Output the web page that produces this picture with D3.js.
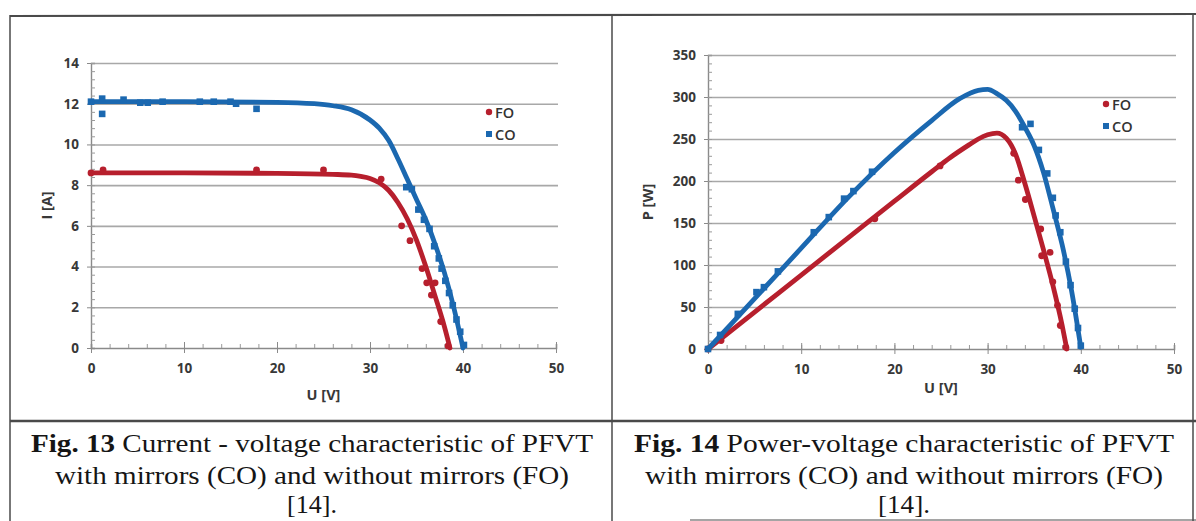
<!DOCTYPE html>
<html>
<head>
<meta charset="utf-8">
<script src="https://cdn.jsdelivr.net/npm/d3@7"></script>
<style>
  html, body { margin: 0; padding: 0; background: #fff; }
  svg { display: block; }
  .cap { font-family: "Liberation Serif", serif; font-size: 26px; fill: #151515; }
</style>
</head>
<body>
<svg id="chart" width="1196" height="521"></svg>
<script>
// ---- data ----
// current-voltage, fitted curves
const ivFoCurveU = [0, 10, 20, 26, 28, 29, 30, 31, 32, 33, 34, 35, 36, 37, 38, 38.6]
const ivFoCurveI = [8.6, 8.6, 8.58, 8.53, 8.49, 8.43, 8.33, 8.12, 7.75, 7.15, 6.35, 5.3, 4.0, 2.55, 1.05, 0]
const ivCoCurveU = [0, 10, 20, 24, 26, 28, 30, 31, 32, 33, 34, 35, 36, 37, 38, 39, 40]
const ivCoCurveI = [12.1, 12.1, 12.07, 12.0, 11.9, 11.7, 11.2, 10.8, 10.2, 9.3, 8.3, 7.3, 6.3, 5.1, 3.7, 2.0, 0]
// current-voltage, measured points
const ivFoU = [0, 1.3, 17.8, 25, 31.2, 33.4, 34.3, 35.6, 36.1, 37.0, 36.6, 37.6, 38.4]
const ivFoI = [8.6, 8.75, 8.75, 8.75, 8.3, 6.0, 5.27, 3.9, 3.2, 3.2, 2.6, 1.3, 0.1]
const ivCoU = [0, 1.2, 1.2, 3.5, 5.3, 6.1, 7.7, 11.7, 13.2, 15.0, 15.6, 17.8, 33.9, 34.5, 35.2, 35.8, 36.4, 36.9, 37.4, 37.7, 38.1, 38.5, 38.9, 39.3, 39.7, 40.1]
const ivCoI = [12.1, 12.25, 11.5, 12.2, 12.05, 12.05, 12.1, 12.1, 12.1, 12.1, 12.0, 11.75, 7.9, 7.8, 6.8, 6.3, 5.85, 5.0, 4.4, 3.9, 3.3, 2.7, 2.1, 1.4, 0.8, 0.15]

// power-voltage, fitted curves
const pvFoCurveU = [0, 5, 10, 15, 20, 24, 26, 28, 29, 30, 31, 32, 33, 34, 35, 36, 37, 38, 38.5]
const pvFoCurveP = [0, 44, 88, 132, 176, 211, 228, 243, 250, 255, 257, 251, 232, 197, 158, 118, 76, 28, 0]
const pvCoCurveU = [0, 5, 10, 15, 20, 24, 27, 29, 30, 31, 32, 33, 34, 35, 36, 37, 38, 39, 40]
const pvCoCurveP = [0, 60, 120, 180, 234, 272, 298, 308, 309, 304, 296, 283, 264, 242, 210, 168, 124, 70, 2]
// power-voltage, measured points
const pvFoU = [0, 1.4, 17.9, 24.9, 32.8, 33.3, 34.05, 35.7, 35.8, 36.7, 37.0, 37.5, 37.8, 38.4]
const pvFoP = [0, 10, 155, 218, 233, 201, 178, 143, 111, 115, 80, 52, 28, 2]
const pvCoU = [0, 1.3, 3.2, 5.2, 6.0, 7.5, 11.35, 12.96, 14.6, 15.6, 17.6, 33.7, 34.6, 35.5, 36.4, 37.0, 37.3, 37.8, 38.4, 38.9, 39.35, 39.7, 40.0]
const pvCoP = [0, 16.7, 41.8, 67.7, 73.6, 92.4, 139, 157, 179, 188, 211, 264, 268, 237, 209, 180, 159, 139, 104, 76, 48, 25, 4]

const seriesNames = ["FO", "CO"]
const xTicks = [0, 10, 20, 30, 40, 50]
const ivTicks = [0, 2, 4, 6, 8, 10, 12, 14]
const pvTicks = [0, 50, 100, 150, 200, 250, 300, 350]

const captions = [
    {bold: "Fig. 13", rest: " Current - voltage characteristic of PFVT", line2: "with mirrors (CO) and without mirrors (FO)", line3: "[14]."},
    {bold: "Fig. 14", rest: " Power-voltage characteristic of PFVT", line2: "with mirrors (CO) and without mirrors (FO)", line3: "[14]."}
]

const RED = "#b71f2d"
const BLUE = "#1b68b0"
const GRID = "#a8a8a8"
const LABEL_FONT = "'Open Sans', sans-serif"

const zip = (a, b) => a.map((v, i) => [v, b[i]])

const svg = d3.select("#chart")
svg.append("rect").attr("width", 1196).attr("height", 521).attr("fill", "#fff")

const styleLabels = s => s.selectAll("text")
    .attr("font-family", LABEL_FONT).attr("font-weight", 700).attr("font-size", 13.5).attr("fill", "#383838")

function panel(cfg) {
    const x = d3.scaleLinear().domain([0, 50]).range([cfg.x0, cfg.x1])
    const y = d3.scaleLinear().domain([0, cfg.yMax]).range([cfg.y0, cfg.y1])
    const g = svg.append("g")

    // gridlines
    g.append("g")
        .attr("transform", `translate(${cfg.x0},0)`)
        .call(d3.axisLeft(y).tickValues(cfg.yTicks.slice(1)).tickSize(-(cfg.x1 - cfg.x0 + 2)).tickFormat(""))
        .call(s => s.select(".domain").remove())
        .selectAll("line").attr("stroke", GRID).attr("stroke-width", 1.6)

    // y minor ticks (inside)
    const yStep = cfg.yTicks[1] / 5
    g.append("g")
        .attr("transform", `translate(${cfg.x0},0)`)
        .call(d3.axisLeft(y).tickValues(d3.range(0, cfg.yMax + 1e-9, yStep)).tickSize(-4).tickFormat(""))
        .call(s => s.select(".domain").attr("stroke", "#8a8a8a").attr("stroke-width", 1.4))
        .selectAll("line").attr("stroke", "#9a9a9a")

    // y major ticks + labels
    g.append("g")
        .attr("transform", `translate(${cfg.x0},0)`)
        .call(d3.axisLeft(y).tickValues(cfg.yTicks).tickSize(4).tickPadding(8))
        .call(s => s.select(".domain").remove())
        .call(s => s.selectAll("line").attr("stroke", "#8a8a8a"))
        .call(styleLabels)

    // x minor ticks (pointing up)
    g.append("g")
        .attr("transform", `translate(0,${cfg.y0})`)
        .call(d3.axisBottom(x).tickValues(d3.range(0, 50.01, 2)).tickSize(-4).tickFormat(""))
        .call(s => s.select(".domain").attr("stroke", "#8a8a8a").attr("stroke-width", 1.6))
        .selectAll("line").attr("stroke", "#9a9a9a")

    // x major ticks + labels
    g.append("g")
        .attr("transform", `translate(0,${cfg.y0})`)
        .call(d3.axisBottom(x).tickValues(xTicks).tickSize(5).tickPadding(10))
        .call(s => s.select(".domain").remove())
        .call(s => s.selectAll("line").attr("stroke", "#8a8a8a").attr("y1", -6))
        .call(styleLabels)

    // axis titles
    g.append("text")
        .attr("x", (cfg.x0 + cfg.x1) / 2).attr("y", cfg.xTitleY)
        .attr("text-anchor", "middle")
        .attr("font-family", LABEL_FONT).attr("font-weight", 700).attr("font-size", 14.5)
        .attr("fill", "#383838")
        .text("U [V]")
    g.append("text")
        .attr("transform", `translate(${cfg.yTitleX},${(cfg.y0 + cfg.y1) / 2}) rotate(-90)`)
        .attr("text-anchor", "middle")
        .attr("font-family", LABEL_FONT).attr("font-weight", 700).attr("font-size", 14.5)
        .attr("fill", "#383838")
        .text(cfg.yTitle)

    const line = d3.line().x(d => x(d[0])).y(d => y(d[1])).curve(d3.curveMonotoneX)

    // FO
    g.append("path").datum(cfg.foCurve).attr("d", line)
        .attr("fill", "none").attr("stroke", RED).attr("stroke-width", 4.8).attr("stroke-linecap", "round")
    g.append("g").selectAll("circle").data(cfg.foPts).enter().append("circle")
        .attr("cx", d => x(d[0])).attr("cy", d => y(d[1])).attr("r", 3.4).attr("fill", RED)

    // CO
    g.append("path").datum(cfg.coCurve).attr("d", line)
        .attr("fill", "none").attr("stroke", BLUE).attr("stroke-width", 4.8).attr("stroke-linecap", "round")
    g.append("g").selectAll("rect").data(cfg.coPts).enter().append("rect")
        .attr("x", d => x(d[0]) - 3.3).attr("y", d => y(d[1]) - 3.3)
        .attr("width", 6.6).attr("height", 6.6).attr("fill", BLUE)

    // legend
    const lg = g.append("g").attr("transform", `translate(${cfg.legX},${cfg.legY})`)
    seriesNames.forEach((name, i) => {
        const row = lg.append("g").attr("transform", `translate(0,${i * 22})`)
        if (i === 0) row.append("circle").attr("cx", 0).attr("cy", 0).attr("r", 3.2).attr("fill", RED)
        else row.append("rect").attr("x", -3).attr("y", -3).attr("width", 6).attr("height", 6).attr("fill", BLUE)
        row.append("text").attr("x", 6).attr("y", 5.5)
            .attr("font-family", LABEL_FONT).attr("font-weight", 600).attr("font-size", 14.5)
            .attr("fill", "#333").text(name)
    })
}

panel({
    x0: 91, x1: 556, y0: 348, y1: 63, yMax: 14, yTicks: ivTicks,
    yTitle: "I [A]", yTitleX: 52, xTitleY: 400,
    foCurve: zip(ivFoCurveU, ivFoCurveI), coCurve: zip(ivCoCurveU, ivCoCurveI),
    foPts: zip(ivFoU, ivFoI), coPts: zip(ivCoU, ivCoI),
    legX: 489, legY: 112
})

panel({
    x0: 708, x1: 1174, y0: 349, y1: 55, yMax: 350, yTicks: pvTicks,
    yTitle: "P [W]", yTitleX: 653, xTitleY: 393,
    foCurve: zip(pvFoCurveU, pvFoCurveP), coCurve: zip(pvCoCurveU, pvCoCurveP),
    foPts: zip(pvFoU, pvFoP), coPts: zip(pvCoU, pvCoP),
    legX: 1106, legY: 104
})

// table frame
const frame = svg.append("g").attr("stroke", "#4a4a4a").attr("fill", "none")
frame.append("line").attr("x1", 10).attr("x2", 1196).attr("y1", 16).attr("y2", 14).attr("stroke-width", 2.2)
frame.append("line").attr("x1", 10).attr("x2", 10).attr("y1", 15).attr("y2", 521).attr("stroke-width", 1.5)
frame.append("line").attr("x1", 612).attr("x2", 612).attr("y1", 14).attr("y2", 521).attr("stroke-width", 1.5)
frame.append("line").attr("x1", 1193).attr("x2", 1193).attr("y1", 14).attr("y2", 521).attr("stroke-width", 1.5)
frame.append("line").attr("x1", 10).attr("x2", 1196).attr("y1", 421).attr("y2", 421).attr("stroke-width", 2.4)
frame.append("line").attr("x1", 690).attr("x2", 1196).attr("y1", 520).attr("y2", 520).attr("stroke-width", 1)

// captions
const capCfg = [
    {cx: 312, w1: 562, w2: 514, w3: 50},
    {cx: 904, w1: 540, w2: 518, w3: 52}
]
captions.forEach((c, i) => {
    const k = capCfg[i]
    const t1 = svg.append("text").attr("class", "cap").attr("x", k.cx).attr("y", 452)
        .attr("text-anchor", "middle").attr("textLength", k.w1).attr("lengthAdjust", "spacingAndGlyphs")
    t1.append("tspan").attr("font-weight", 700).text(c.bold)
    t1.append("tspan").text(c.rest)
    svg.append("text").attr("class", "cap").attr("x", k.cx).attr("y", 484)
        .attr("text-anchor", "middle").attr("textLength", k.w2).attr("lengthAdjust", "spacingAndGlyphs")
        .text(c.line2)
    svg.append("text").attr("class", "cap").attr("x", k.cx).attr("y", 513)
        .attr("text-anchor", "middle").attr("textLength", k.w3).attr("lengthAdjust", "spacingAndGlyphs")
        .text(c.line3)
})
</script>
</body>
</html>
